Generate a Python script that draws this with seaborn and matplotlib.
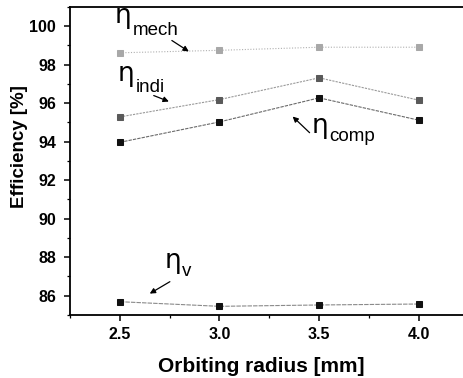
import matplotlib
matplotlib.use("Agg")
import matplotlib.pyplot as plt
from matplotlib.ticker import MultipleLocator
import pandas as pd
import seaborn as sns

# Orbiting radius [mm] and efficiencies [%]
radius = [2.5, 3.0, 3.5, 4.0]
eta_mech = [98.62, 98.75, 98.91, 98.91]
eta_indi = [95.29, 96.19, 97.32, 96.16]
eta_comp = [93.97, 95.03, 96.28, 95.12]
eta_v = [85.69, 85.45, 85.52, 85.57]

sns.set_theme(style="ticks")
plt.rcParams["font.family"] = ["Liberation Sans", "DejaVu Sans"]

fig = plt.figure(figsize=(4.63, 3.78), dpi=100)
ax = fig.add_axes([0.1512, 0.1667, 0.861, 0.8148])

series = [
    ("mech", eta_mech, "#a8a8a8", "#b0b0b0", (0, (1, 1.5))),
    ("indi", eta_indi, "#5a5a5a", "#9a9a9a", (0, (2, 1))),
    ("comp", eta_comp, "#111111", "#6a6a6a", (0, (3, 1))),
    ("v", eta_v, "#111111", "#8a8a8a", (0, (4, 1))),
]
for name, vals, mcol, lcol, ls in series:
    df = pd.DataFrame({"r": radius, "eff": vals})
    sns.lineplot(data=df, x="r", y="eff", ax=ax, color=lcol, lw=0.8,
                 linestyle=ls, marker="s", markersize=4.5,
                 markerfacecolor=mcol, markeredgecolor=mcol, zorder=3)

ax.set_xlim(2.25, 4.25)
ax.set_ylim(85, 101)
ax.xaxis.set_minor_locator(MultipleLocator(0.25))
ax.yaxis.set_minor_locator(MultipleLocator(1))
ax.set_xticks(radius)
ax.set_xticklabels([f"{r:.1f}" for r in radius])
ax.set_yticks(range(86, 101, 2))

for s in ("left", "bottom", "top"):
    ax.spines[s].set_linewidth(1.3)
    ax.spines[s].set_color("black")
ax.spines["right"].set_visible(False)
ax.tick_params(which="major", direction="out", length=4, width=1.1,
               color="black", labelsize=11.5)
ax.tick_params(axis="x", which="major", pad=4.5)
ax.tick_params(axis="y", which="major", pad=6)
ax.tick_params(which="minor", direction="out", length=2, width=0.9,
               color="black")
for lab in ax.get_xticklabels() + ax.get_yticklabels():
    lab.set_fontweight("bold")
    lab.set_color("black")

ax.set_xlabel("Orbiting radius [mm]", fontsize=15, fontweight="bold",
              color="black")
ax.set_ylabel("Efficiency [%]", fontsize=13.5, fontweight="bold",
              color="black")
ax.xaxis.set_label_coords(0.48, -0.135)
ax.yaxis.set_label_coords(-0.105, 0.547)

arrow = dict(arrowstyle="-|>", color="black", lw=0.9, mutation_scale=8,
             shrinkA=0, shrinkB=0)
# (subscript, eta position, subscript position, arrow tail, arrow head)
labels = [
    ("mech", (2.475, 100.17), (2.565, 99.57), (2.761, 99.26), (2.846, 98.69)),
    ("indi", (2.49, 97.15), (2.578, 96.60), (2.670, 96.40), (2.746, 96.09)),
    ("comp", (3.461, 94.45), (3.549, 94.03), (3.452, 94.47), (3.367, 95.31)),
    ("v", (2.726, 87.44), (2.812, 87.00), (2.751, 86.73), (2.650, 86.11)),
]
for sub, epos, spos, tail, head in labels:
    ax.text(epos[0], epos[1], "η", fontsize=19, family="DejaVu Sans",
            ha="left", va="baseline", color="black")
    ax.text(spos[0], spos[1], sub, fontsize=13.5, ha="left", va="baseline",
            color="black")
    ax.annotate("", xy=head, xytext=tail, arrowprops=arrow)

fig.savefig("out.png", dpi=100)
